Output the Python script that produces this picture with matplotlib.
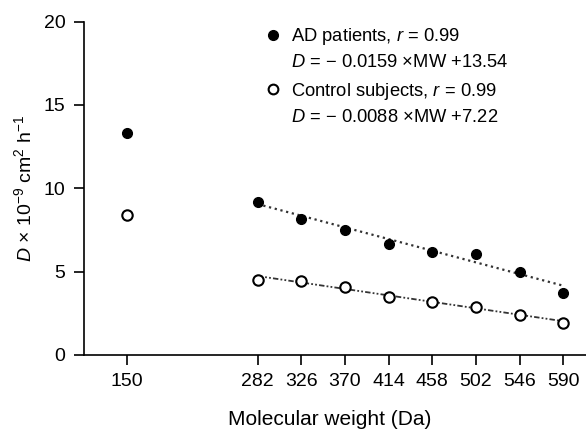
import matplotlib
matplotlib.use("Agg")
import matplotlib.pyplot as plt
import numpy as np

plt.rcParams['font.family'] = ['Liberation Sans', 'DejaVu Sans']
plt.rcParams['mathtext.fontset'] = 'custom'
plt.rcParams['mathtext.rm'] = 'Liberation Sans'
plt.rcParams['mathtext.it'] = 'Liberation Sans:italic'

# molecular weight (Da) and diffusion coefficients (x 1e-9 cm^2/h)
mw = [150, 282, 326, 370, 414, 458, 502, 546, 590]
ad_patients = [13.33, 9.18, 8.16, 7.52, 6.63, 6.17, 6.07, 4.97, 3.74]
control_subjects = [8.40, 4.48, 4.45, 4.08, 3.50, 3.18, 2.90, 2.39, 1.91]

# regression lines (fit over 282-590 Da)
ad_fit = (-0.0159, 13.54)
ctl_fit = (-0.0088, 7.22)
fit_range = [282, 590]

fig = plt.figure(figsize=(5.86, 4.29), dpi=100, facecolor='white')
ax = fig.add_axes([0.1425, 0.1725, 0.8575, 0.777])

fx = np.array(fit_range)
ax.plot(fx, ad_fit[0] * fx + ad_fit[1], color='#333333', linestyle=':', linewidth=1.6)
ax.plot(fx, ctl_fit[0] * fx + ctl_fit[1], color='#333333',
        linestyle=(0, (3, 1.2, 1, 1.2, 1, 1.2)), linewidth=1.3)

ax.plot(mw, ad_patients, 'o', color='black', markersize=7, zorder=3)
ax.plot(mw, control_subjects, 'o', markerfacecolor='white', markeredgecolor='black',
        markeredgewidth=1.5, markersize=7.5, zorder=3)

ax.set_xlim(106.5, 613)
ax.set_ylim(0, 20)
ax.set_xticks(mw)
ax.set_yticks([0, 5, 10, 15, 20])
ax.tick_params(direction='out', length=7, width=1.2, labelsize=14, pad=6)
for side in ['top', 'right']:
    ax.spines[side].set_visible(False)
for side in ['left', 'bottom']:
    ax.spines[side].set_linewidth(1.2)

ax.set_xlabel('Molecular weight (Da)', fontsize=15, labelpad=13)
ax.xaxis.set_label_coords(0.49, -0.165)
ax.set_ylabel(r'$D$ × 10$^{-9}$ cm$^{2}$ h$^{-1}$', fontsize=14, labelpad=6)

# legend drawn by hand
ax.plot([0.377], [0.960], 'o', color='black', markersize=7, transform=ax.transAxes, clip_on=False)
ax.plot([0.377], [0.797], 'o', markerfacecolor='white', markeredgecolor='black',
        markeredgewidth=1.5, markersize=7, transform=ax.transAxes, clip_on=False)
tx = 0.413
ax.text(tx, 0.954, r'AD patients, $r$ = 0.99', transform=ax.transAxes,
        fontsize=13.2, va='center', ha='left')
ax.text(tx, 0.876, r'$D$ = − 0.0159 ×MW +13.54', transform=ax.transAxes,
        fontsize=13.2, va='center', ha='left')
ax.text(tx, 0.789, r'Control subjects, $r$ = 0.99', transform=ax.transAxes,
        fontsize=13.2, va='center', ha='left')
ax.text(tx, 0.711, r'$D$ = − 0.0088 ×MW +7.22', transform=ax.transAxes,
        fontsize=13.2, va='center', ha='left')

fig.savefig('out.png', dpi=100)
